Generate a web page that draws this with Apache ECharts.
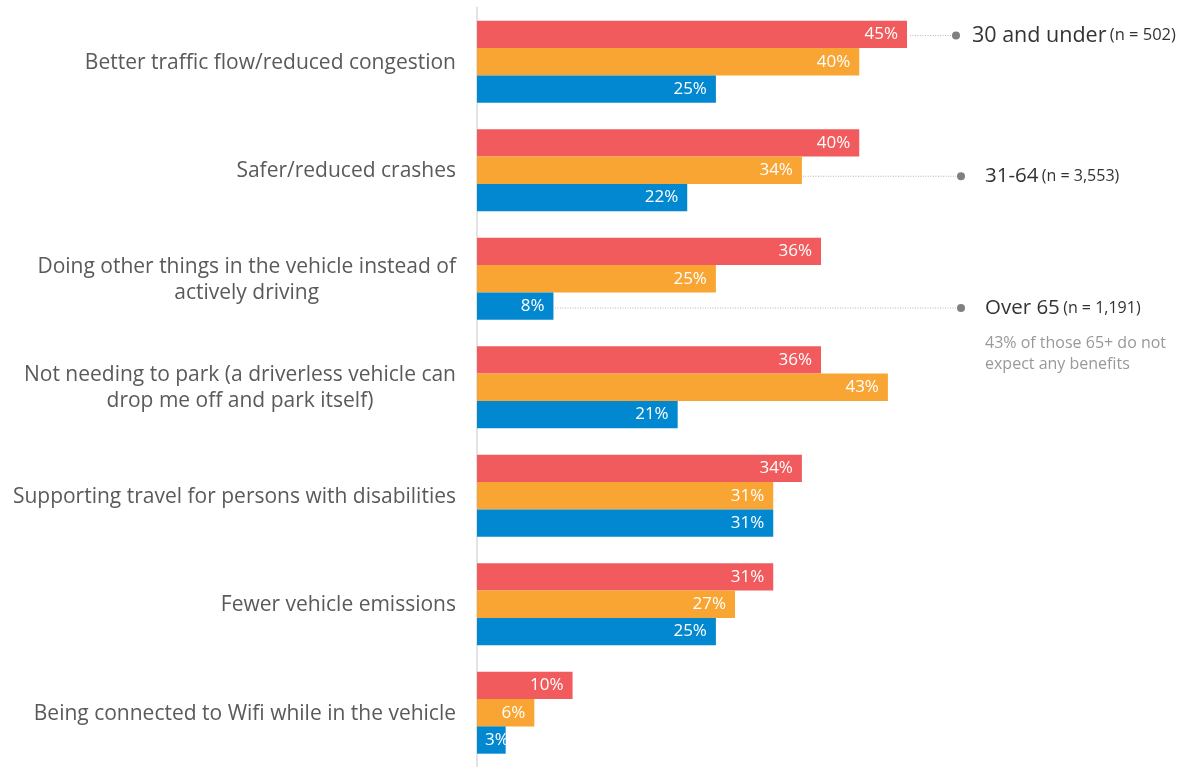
<!DOCTYPE html>
<html>
<head>
<meta charset="utf-8">
<script src="https://cdn.jsdelivr.net/npm/echarts@6/dist/echarts.min.js"></script>
<style>
  html, body { margin: 0; padding: 0; background: #fff; }
  #chart { width: 1182px; height: 767px; }
</style>
</head>
<body>
<div id="chart"></div>
<script>
// Expected benefits of driverless vehicles, by age group (percent of respondents)
const categories = [
  'Better traffic flow/reduced congestion',
  'Safer/reduced crashes',
  'Doing other things in the vehicle instead of\nactively driving',
  'Not needing to park (a driverless vehicle can\ndrop me off and park itself)',
  'Supporting travel for persons with disabilities',
  'Fewer vehicle emissions',
  'Being connected to Wifi while in the vehicle'
];
const under30 = [45, 40, 36, 36, 34, 31, 10];
const age31to64 = [40, 34, 25, 43, 31, 27, 6];
const over65 = [25, 22, 8, 21, 31, 25, 3];

const groupNames = ['30 and under', '31-64', 'Over 65'];
const groupSizes = ['(n = 502)', '(n = 3,553)', '(n = 1,191)'];
const over65Note = ['43% of those 65+ do not', 'expect any benefits'];

const COLORS = ['#F15B5D', '#F9A534', '#0288D1'];
const FONT = '"Open Sans", "Noto Sans", sans-serif';
const BAR_H = 27.3;

const chart = echarts.init(document.getElementById('chart'));

function labelFormatter(v) {
  return v.split('\n').map(l => '{c|' + l + '}').join('\n');
}

function makeSeries(name, data, color) {
  return {
    name: name,
    type: 'bar',
    // very short bars get their label pinned to the bar's start instead
    data: data.map(v => v < 5 ? { value: v, label: { position: 'insideLeft', distance: 8 } } : v),
    barWidth: BAR_H,
    barGap: '0%',
    itemStyle: { color: color },
    label: {
      show: true,
      position: 'insideRight',
      distance: 9,
      color: '#fff',
      fontFamily: FONT,
      fontSize: 17,
      formatter: p => p.value + '%'
    },
    silent: true
  };
}

chart.setOption({
  animation: false,
  grid: { left: 477, top: 7.5, height: 763, width: 477.8, containLabel: false },
  xAxis: {
    type: 'value', min: 0, max: 50,
    show: false
  },
  yAxis: {
    type: 'category',
    data: categories,
    inverse: true,
    axisTick: { show: false },
    axisLine: { show: true, lineStyle: { color: '#e3e3e3', width: 2 } },
    axisLabel: {
      margin: 21,
      color: '#5a5a5a',
      fontFamily: FONT,
      fontSize: 21,
      lineHeight: 26,
      formatter: labelFormatter,
      rich: { c: { align: 'center', color: '#5a5a5a', fontFamily: FONT, fontSize: 21, lineHeight: 26, padding: [2, 0, 0, 0] } }
    }
  },
  series: [
    makeSeries(groupNames[0], under30, COLORS[0]),
    makeSeries(groupNames[1], age31to64, COLORS[1]),
    makeSeries(groupNames[2], over65, COLORS[2])
  ]
});

// Leader lines from a bar's end to each group's caption
const callouts = [
  { series: 0, cat: 0, dy: 1, gap: 3, dotX: 956, textX: 972, big: 21.5, small: 16.5 },
  { series: 1, cat: 1, dy: 6, gap: 1, dotX: 961, textX: 985, big: 20.5, small: 16 },
  { series: 2, cat: 2, dy: 2, gap: 1.5, dotX: 961, textX: 985, big: 20.5, small: 16 }
];
const seriesData = [under30, age31to64, over65];
const graphics = [];
callouts.forEach((c, k) => {
  const v = seriesData[c.series][c.cat];
  const end = chart.convertToPixel({ gridIndex: 0 }, [v, c.cat]);
  const y = end[1] + (c.series - 1) * BAR_H + c.dy;
  graphics.push({
    type: 'line', silent: true,
    shape: { x1: end[0] + c.gap, y1: y, x2: c.dotX, y2: y },
    style: { stroke: '#b5b5b5', lineWidth: 1, lineDash: [1, 1.5] }
  });
  graphics.push({
    type: 'circle', silent: true,
    shape: { cx: c.dotX, cy: y, r: 4 },
    style: { fill: '#808080' }
  });
  graphics.push({
    type: 'text', silent: true,
    x: c.textX, y: y,
    style: {
      text: '{a|' + groupNames[k] + '} {b|' + groupSizes[k] + '}',
      verticalAlign: 'middle',
      rich: {
        a: { fontFamily: FONT, fontSize: c.big, fill: '#333333' },
        b: { fontFamily: FONT, fontSize: c.small, fill: '#333333' }
      }
    }
  });
  if (k === 2) {
    graphics.push({
      type: 'text', silent: true,
      x: c.textX, y: y + 25,
      style: {
        text: over65Note.join('\n'),
        fontFamily: FONT, fontSize: 16, lineHeight: 21,
        fill: '#999999', verticalAlign: 'top'
      }
    });
  }
});
chart.setOption({ graphic: graphics });
</script>
</body>
</html>
